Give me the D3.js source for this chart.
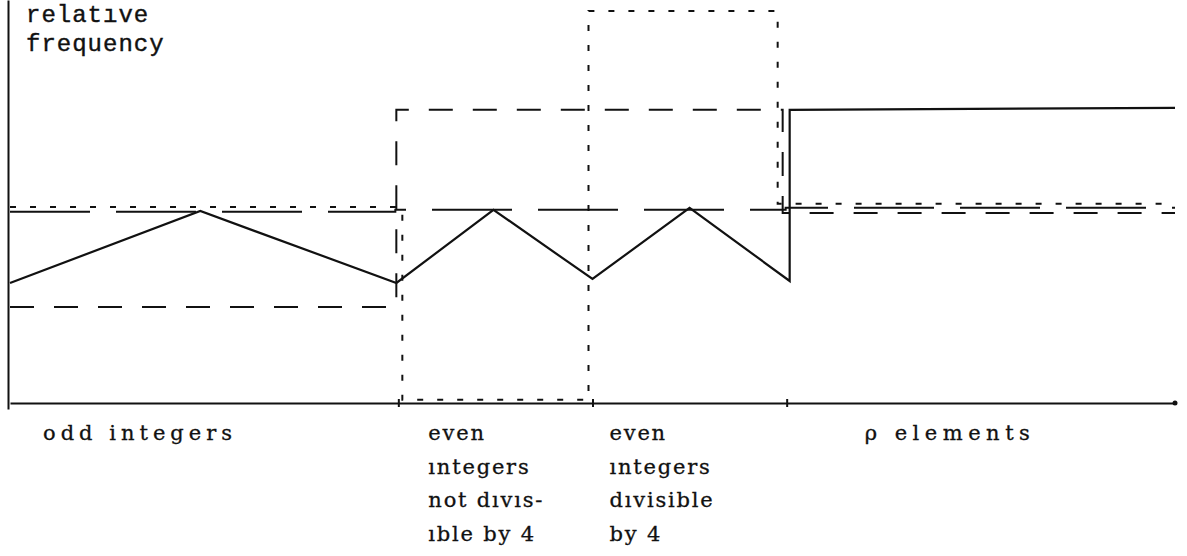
<!DOCTYPE html>
<html>
<head>
<meta charset="utf-8">
<script src="https://cdn.jsdelivr.net/npm/d3@7"></script>
<style>
  body { margin: 0; background: #fff; }
  .cat { font-family: "DejaVu Serif", serif; font-size: 21px; fill: #111; stroke: #111; stroke-width: 0.3px; }
  .ylab { font-family: "Liberation Mono", monospace; font-size: 24px; letter-spacing: 1px; fill: #111; stroke: #111; stroke-width: 0.4px; }
</style>
</head>
<body>
<div id="chart"></div>
<script>
// categories and their widths along the x axis (boundaries in class units)
const categories = ["odd integers", "even integers not divisible by 4", "even integers divisible by 4", "ρ elements"];
const catBounds = [0, 2, 3, 4, 6];
const categoryLabels = [
  ["odd integers"],
  ["even", "ıntegers", "not dıvıs-", "ıble by 4"],
  ["even", "ıntegers", "dıvisible", "by 4"],
  ["ρ  elements"]
];

// step series: one relative frequency per category
const dottedValues = [4.9, 0.08, 9.8, 4.98];
const longDashValues = [2.4, 7.33, 7.33, 4.75];
const flatValues = [4.78, 4.83, 4.83, 4.88];

// solid zigzag series: [x in class units, relative frequency]
const zigzagPoints = [[0, 3.0], [0.98, 4.8], [1.99, 3.0], [2.49, 4.83], [3, 3.1], [3.5, 4.88], [4, 3.05], [4, 7.33], [6, 7.38]];

const width = 1187, height = 556;

const svg = d3.select("#chart")
  .append("svg")
  .attr("width", width)
  .attr("height", height);

// scales
const x = d3.scaleLinear().domain([0, 6]).range([10, 1175]);
const y = d3.scaleLinear().domain([0, 10]).range([403, 3]);

// build step points from per-category values; shift nudges the vertical edges apart
function stepPoints(values, shift) {
  const pts = [];
  values.forEach((v, i) => {
    pts.push({ x: x(catBounds[i]) + shift[i], y: y(v) });
    pts.push({ x: x(catBounds[i + 1]) + shift[i + 1], y: y(v) });
  });
  return pts;
}

const line = d3.line().x(d => d.x).y(d => d.y);

// flat long-dash reference line
svg.append("path")
  .attr("d", line(stepPoints(flatValues, [0, -3, 0, -1, 0])))
  .attr("fill", "none")
  .attr("stroke", "#111")
  .attr("stroke-width", 2)
  .attr("stroke-dasharray", "80,26");

// long-dash step line
svg.append("path")
  .attr("d", line(stepPoints(longDashValues, [0, -2, 0, -4, 0])))
  .attr("fill", "none")
  .attr("stroke", "#111")
  .attr("stroke-width", 2)
  .attr("stroke-dasharray", "24,20");

// dotted step line
svg.append("path")
  .attr("d", line(stepPoints(dottedValues, [0, 4, -4, -9, 0])))
  .attr("fill", "none")
  .attr("stroke", "#111")
  .attr("stroke-width", 2)
  .attr("stroke-dasharray", "6,14");

// solid zigzag line
svg.append("path")
  .datum(zigzagPoints)
  .attr("d", d3.line().x(d => x(d[0]) + (d[0] === 4 ? 3 : 0)).y(d => y(d[1])))
  .attr("fill", "none")
  .attr("stroke", "#111")
  .attr("stroke-width", 2.2);

// axes
const xAxis = svg.append("g")
  .attr("transform", "translate(0," + y(0) + ")")
  .call(d3.axisBottom(x).tickValues(catBounds.slice(1, 4)).tickSize(4).tickSizeOuter(0).tickFormat(""));
xAxis.select(".domain").attr("stroke", "#111").attr("stroke-width", 2);
xAxis.selectAll(".tick line").attr("stroke", "#111").attr("stroke-width", 2).attr("y1", -4);

svg.append("g")
  .attr("transform", "translate(8,0)")
  .call(d3.axisLeft(d3.scaleLinear().range([y(0) + 6, 0])).ticks(0).tickSizeOuter(0))
  .select(".domain").attr("stroke", "#111").attr("stroke-width", 2);

svg.append("circle")
  .attr("cx", x(6)).attr("cy", y(0)).attr("r", 2.5).attr("fill", "#111");

// y label
svg.selectAll(".ylab")
  .data(["relatıve", "frequency"])
  .enter().append("text")
  .attr("class", "ylab")
  .attr("x", 26)
  .attr("y", (d, i) => 22 + i * 29)
  .text(d => d);

// category labels under the axis
const labelPad = [33, 30, 17, 78];
const labelSpacing = [5, 1.8, 1.8, 5.5];
const labelGroups = svg.selectAll(".catgroup")
  .data(categoryLabels)
  .enter().append("g")
  .attr("transform", (d, i) => "translate(" + (x(catBounds[i]) + labelPad[i]) + ",440)")
  .style("letter-spacing", (d, i) => labelSpacing[i] + "px");

labelGroups.selectAll("text")
  .data(d => d)
  .enter().append("text")
  .attr("class", "cat")
  .attr("y", (d, i) => i * 33.5)
  .text(d => d);
</script>
</body>
</html>
